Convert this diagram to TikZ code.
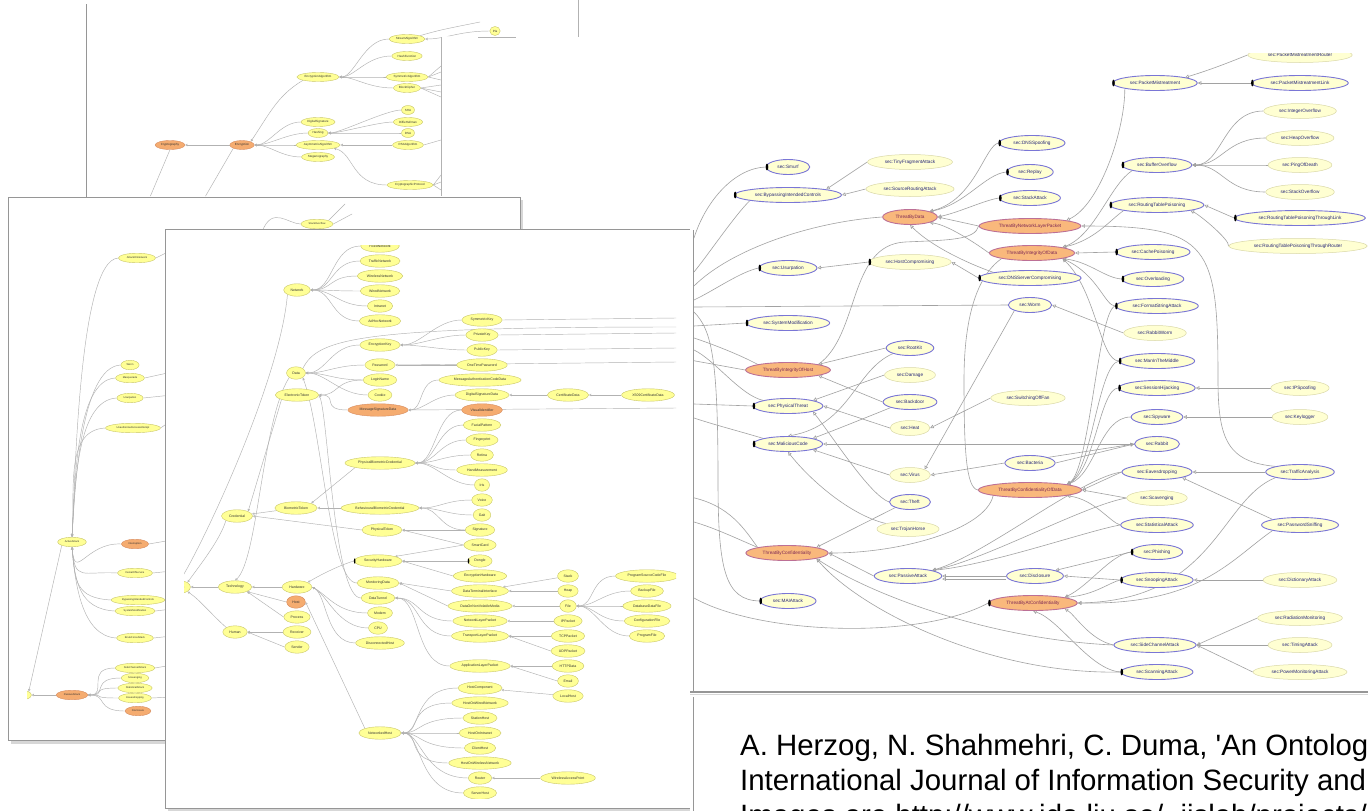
\documentclass[tikz,border=0pt]{standalone}
\usepackage{fontspec}
\setmainfont{Liberation Sans}
\setsansfont{Liberation Sans}
\usetikzlibrary{arrows.meta, shapes.geometric, positioning, calc}

\definecolor{ayel}{RGB}{255,255,150}
\definecolor{ayelline}{RGB}{200,198,105}
\definecolor{aorg}{RGB}{245,172,112}
\definecolor{aorgline}{RGB}{215,140,95}
\definecolor{agray}{RGB}{178,178,178}
\definecolor{ryel}{RGB}{255,255,210}
\definecolor{rblue}{RGB}{122,118,214}
\definecolor{rlight}{RGB}{218,216,168}
\definecolor{rorg}{RGB}{249,184,124}
\definecolor{rorgline}{RGB}{188,112,150}
\definecolor{rtext}{RGB}{38,38,120}
\definecolor{rorgtext}{RGB}{125,40,85}
\definecolor{rgray}{RGB}{162,162,162}
\definecolor{pline}{RGB}{150,150,150}
\definecolor{pshade}{RGB}{215,215,215}

\pgfdeclarelayer{pa}\pgfdeclarelayer{na}
\pgfdeclarelayer{pb}\pgfdeclarelayer{nb}
\pgfdeclarelayer{pc}\pgfdeclarelayer{nc}
\pgfdeclarelayer{pd}\pgfdeclarelayer{nd}
\pgfsetlayers{pa,na,pb,nb,pc,nc,pd,nd,main}

\tikzset{
  lnode/.style={ellipse, fill=ayel, draw=ayelline, line width=0.4pt, inner ysep=0pt, text=black!80},
  tnode/.style={lnode, inner xsep=1.5pt, minimum height=9pt, font=\fontsize{3}{3.4}\selectfont},
  mnode/.style={lnode, inner xsep=3pt, minimum height=9.5pt, font=\fontsize{2.6}{3}\selectfont},
  fnode/.style={lnode, inner xsep=3pt, minimum height=12.5pt, font=\fontsize{3.5}{4}\selectfont},
  lorg/.style={fill=aorg, draw=aorgline},
  ledge/.style={draw=agray, line width=0.45pt, -{Triangle[open, length=2.4pt, width=2.4pt]}},
  lline/.style={draw=agray, line width=0.45pt},
  rnode/.style={ellipse, fill=ryel, inner xsep=4.8pt, inner ysep=0pt, minimum height=15pt, font=\fontsize{4.7}{5.5}\selectfont, text=rtext},
  rcls/.style={rnode, draw=rblue, line width=0.9pt},
  rlit/.style={rnode, draw=rlight, line width=0.5pt},
  rthr/.style={rnode, fill=rorg, draw=rorgline, line width=0.9pt, text=rorgtext},
  redge/.style={draw=rgray, line width=0.6pt, -{Triangle[open, length=3.6pt, width=3.6pt]}},
  rline/.style={draw=rgray, line width=0.6pt},
  paneline/.style={draw=pline, line width=0.9pt},
  refline/.style={font=\fontsize{29.4}{34}\selectfont, anchor=base west, inner sep=0pt},
}
\newcommand{\tabmark}[1]{\fill[black] ([xshift=1.2pt]#1.west) ellipse (1.3pt and 3.4pt);}
\newcommand{\ltab}[1]{\fill[black] ([xshift=0.8pt]#1.west) ellipse (0.8pt and 2.6pt);}

\begin{document}
\begin{tikzpicture}[x=1pt, y=-1pt]
\useasboundingbox (0,0) rectangle (1368,811);

% ---------- back pane: cryptography ----------
\begin{pgfonlayer}{na}
\begin{scope}
\clip (87,0) -- (578,0) -- (578,36) -- (441,36) -- (441,196) -- (87,196) -- cycle;
\node[tnode, lorg] (crypto) at (170,145) {Cryptography};
\node[tnode, lorg] (encrypt) at (242,145) {Encryption};
\node[tnode] (encalg) at (318,77) {EncryptionAlgorithm};
\node[tnode] (digsig) at (318,122) {DigitalSignature};
\node[tnode] (hashing) at (318,133) {Hashing};
\node[tnode] (asymalg) at (318,145) {AsymmetricAlgorithm};
\node[tnode] (stegano) at (318,157) {Steganography};
\node[tnode] (streamalg) at (407,39) {StreamAlgorithm};
\node[tnode] (hashfn) at (407,56) {HashFunction};
\node[tnode] (symalg) at (407,77) {SymmetricAlgorithm};
\node[tnode] (blockc) at (407,88) {BlockCipher};
\node[tnode] (sha) at (408,110) {SHA};
\node[tnode] (diffie) at (408,122) {DiffieHellman};
\node[tnode] (dsa) at (408,133) {DSA};
\node[tnode] (rsa) at (408,145) {RSAAlgorithm};
\node[tnode] (cproto) at (410,185) {CryptographicProtocol};
\node[tnode] (plain) at (495,31) {Pla};
\end{scope}
\end{pgfonlayer}

\begin{pgfonlayer}{pa}
\fill[white] (86,-2) rectangle (580,197);
\draw[paneline] (86,4) -- (86,197);
\draw[lline] (441,37) -- (441,196);
\draw[lline] (578,-2) -- (578,37);
\draw[lline] (478,37) -- (516,37);
\begin{scope}
\clip (87,0) -- (578,0) -- (578,36) -- (441,36) -- (441,196) -- (87,196) -- cycle;
\draw[ledge] (encrypt) -- (crypto);
\draw[ledge] (encalg.south west) .. controls +(-25,15) and +(20,-30) .. (encrypt.north east);
\foreach \c in {digsig,hashing,asymalg,stegano}
  \draw[ledge] (\c.west) .. controls +(-20,0) and +(15,0) .. (encrypt.east);
\foreach \c in {streamalg,hashfn,symalg,blockc}
  \draw[ledge] (\c.west) .. controls +(-25,0) and +(15,0) .. (encalg.east);
\foreach \c in {sha,diffie,dsa}
  \draw[ledge] (\c.west) .. controls +(-15,0) and +(12,0) .. (hashing.east);
\draw[ledge] (rsa) -- (asymalg);
\draw[ledge] (cproto.west) .. controls +(-35,0) and +(20,5) .. (asymalg.south east);
\draw[ledge] (plain.west) .. controls +(-30,0) and +(20,0) .. (streamalg.east);
\coordinate (atop) at (480,22);
\draw[lline] (streamalg.north east) .. controls (440,30) .. (atop);
\coordinate (aoutA) at (150,197);
\coordinate (aoutB) at (205,197);
\draw[lline] (crypto.south) -- (aoutA);
\draw[lline] (encrypt.south west) -- (aoutB);
\foreach \c/\y [count=\k] in {symalg/66, symalg/72, symalg/80, blockc/85, blockc/92, blockc/97, rsa/140, cproto/175, cproto/182, cproto/190} {
  \coordinate (ar\k) at (441,\y);
  \draw[lline] (\c.east) -- (ar\k);
}
\end{scope}
\end{pgfonlayer}

% ---------- middle pane: attacks ----------
\begin{pgfonlayer}{nb}
\begin{scope}
\clip (27,198) rectangle (519,739);
\node[mnode] (matt) at (22,695) {Attack};
\node[mnode] (mactive) at (72,542) {ActiveAttack};
\node[mnode, lorg] (mpassive) at (72,695) {PassiveAttack};
\node[mnode] (mattnet) at (137,258) {AttackOnNetwork};
\node[mnode] (mworm) at (130,365) {Worm};
\node[mnode] (mmasq) at (130,378) {Masquerade};
\node[mnode] (musurp) at (130,398) {Usurpation};
\node[mnode] (munauth) at (133,428) {UnauthorizedAccessAttempt};
\node[mnode, lorg] (minterr) at (135,544) {Interruption};
\node[mnode] (mdos) at (135,573) {DenialOfService};
\node[mnode] (mbypass) at (138,600) {BypassingIntendedControls};
\node[mnode] (msysmod) at (135,611) {SystemModification};
\node[mnode] (mbrute) at (135,638) {BruteForceAttack};
\node[mnode] (mside) at (135,668) {SideChannelAttack};
\node[mnode] (mscav) at (135,678) {Scavenging};
\node[mnode] (mstat) at (135,688) {StatisticalAttack};
\node[mnode] (meaves) at (135,698) {Eavesdropping};
\node[mnode, lorg] (mdiscl) at (138,711) {Disclosure};
\node[mnode] (mstackov) at (317,224) {StackOverflow};
\node[mnode] (mheapov) at (220,236) {HeapOverflow};
\end{scope}
\end{pgfonlayer}

\begin{pgfonlayer}{pb}
\fill[pshade] (11,200) rectangle (523,744);
\fill[white] (8,197) rectangle (520,740);
\draw[paneline] (8,740) -- (8,197) -- (520,197) -- (520,232);
\draw[paneline] (8,740) -- (170,740);
\begin{scope}
\clip (27,198) rectangle (519,739);
\draw[ledge] (mpassive) -- (matt);
\draw[ledge] (mactive.south west) -- (matt.north east);
\foreach \c in {mattnet,mworm,mmasq,musurp,munauth}
  \draw[ledge] (\c.west) .. controls +(-40,2) and +(3,-50) .. (mactive.north);
\foreach \c in {minterr,mdos,mbypass,msysmod,mbrute}
  \draw[ledge] (\c.west) .. controls +(-35,-2) and +(3,35) .. (mactive.south);
\foreach \c in {mside,mscav,mstat,meaves,mdiscl}
  \draw[ledge] (\c.west) .. controls +(-30,0) and +(20,0) .. (mpassive.east);
\foreach \c/\y in {mattnet/250, mmasq/372, musurp/395, munauth/420, minterr/540, mdos/571, mbypass/598, msysmod/609, mbrute/636, mside/665, meaves/697} {
  \coordinate (bo\c) at (172,\y);
  \draw[lline] (\c.east) -- (bo\c);
}
\coordinate (bcurl) at (262,232);
\draw[lline] (mstackov.west) .. controls (288,224) and (272,205) .. (bcurl);
\coordinate (bupA) at (345,204);
\coordinate (bupB) at (352,214);
\draw[lline] (mstackov.north east) -- (bupA);
\draw[lline] (mstackov.east) -- (bupB);
\end{scope}
\end{pgfonlayer}

% ---------- front pane: assets ----------
\begin{pgfonlayer}{nc}
\begin{scope}
\clip (184,245) rectangle (676,798);
\node[fnode] (asset) at (180,587) {Asset};
\node[fnode] (techno) at (235,587) {Technology};
\node[fnode] (human) at (235,632) {Human};
\node[fnode] (cred) at (237,516) {Credential};
\node[fnode] (hardw) at (297,587) {Hardware};
\node[fnode, lorg] (host) at (296,602) {Host};
\node[fnode] (process) at (297,617) {Process};
\node[fnode] (receiver) at (297,632) {Receiver};
\node[fnode] (sender) at (297,647) {Sender};
\node[fnode] (netw) at (297,290) {Network};
\node[fnode] (data) at (296,373) {Data};
\node[fnode] (etoken) at (297,395) {ElectronicToken};
\node[fnode] (btoken) at (296,508) {BiometricToken};
% network kinds
\foreach \n/\t [count=\i] in {fixnet/FixedNetwork, trafnet/TrafficNetwork, wlnet/WirelessNetwork, wdnet/WiredNetwork, intra/Intranet, adhoc/AdHocNetwork}
  \node[fnode] (\n) at (380,231+15*\i) {\t};
\node[fnode] (enckey) at (380,345) {EncryptionKey};
\node[fnode] (passwd) at (380,365) {Password};
\node[fnode] (login) at (380,380) {LoginName};
\node[fnode] (cookie) at (380,395) {Cookie};
\node[fnode, lorg] (sigdata) at (378,410) {MessageSignatureData};
\node[fnode] (physbio) at (380,463) {PhysicalBiometricCredential};
\node[fnode] (behbio) at (380,508) {BehaviouralBiometricCredential};
\node[fnode] (phystoken) at (382,530) {PhysicalToken};
\node[fnode] (sechw) at (378,561) {SecurityHardware};
\node[fnode] (mondata) at (378,583) {MonitoringData};
\node[fnode] (tunnel) at (378,598) {DataTunnel};
\node[fnode] (modem) at (380,613) {Modem};
\node[fnode] (cpu) at (378,628) {CPU};
\node[fnode] (dischost) at (380,643) {DisconnectedHost};
\node[fnode] (nethost) at (380,733) {NetworkedHost};
% third column
\node[fnode] (symkey) at (482,320) {SymmetricKey};
\node[fnode] (privkey) at (482,335) {PrivateKey};
\node[fnode] (pubkey) at (482,350) {PublicKey};
\node[fnode] (otp) at (482,365) {OneTimePassword};
\node[fnode] (macdata) at (480,380) {MessageAuthenticationCodeData};
\node[fnode] (digsigdata) at (482,395) {DigitalSignatureData};
\node[fnode, lorg] (visual) at (482,410) {VisualIdentifier};
\node[fnode] (facial) at (482,425) {FacialPattern};
\node[fnode] (finger) at (482,440) {Fingerprint};
\node[fnode] (retina) at (482,455) {Retina};
\node[fnode] (handm) at (482,470) {HandMeasurement};
\node[fnode] (iris) at (482,485) {Iris};
\node[fnode] (voice) at (482,500) {Voice};
\node[fnode] (gait) at (482,515) {Gait};
\node[fnode] (signat) at (480,530) {Signature};
\node[fnode] (smart) at (480,545) {SmartCard};
\node[fnode] (dongle) at (480,561) {Dongle};
\node[fnode] (enchw) at (480,576) {EncryptionHardware};
\node[fnode] (dti) at (480,591) {DataTerminalInterface};
\node[fnode] (dnvm) at (480,606) {DataOnNonVolatileMedia};
\node[fnode] (nlp) at (480,621) {NetworkLayerPacket};
\node[fnode] (tlp) at (480,636) {TransportLayerPacket};
\node[fnode] (alp) at (480,666) {ApplicationLayerPacket};
\node[fnode] (hcomp) at (480,688) {HostComponent};
\node[fnode] (hwired) at (480,703) {HostOnWiredNetwork};
\node[fnode] (station) at (480,718) {StationHost};
\node[fnode] (hintra) at (480,733) {HostOnIntranet};
\node[fnode] (client) at (480,748) {ClientHost};
\node[fnode] (hwless) at (480,763) {HostOnWirelessNetwork};
\node[fnode] (router) at (480,778) {Router};
\node[fnode] (server) at (480,793) {ServerHost};
% fourth column
\node[fnode] (certdata) at (568,395) {CertificateData};
\node[fnode] (stack) at (568,576) {Stack};
\node[fnode] (heap) at (568,591) {Heap};
\node[fnode] (file) at (568,606) {File};
\node[fnode] (ippkt) at (568,621) {IPPacket};
\node[fnode] (tcppkt) at (568,636) {TCPPacket};
\node[fnode] (udppkt) at (568,651) {UDPPacket};
\node[fnode] (http) at (568,666) {HTTPData};
\node[fnode] (email) at (568,681) {Email};
\node[fnode] (localh) at (568,696) {LocalHost};
\node[fnode] (wap) at (568,778) {WirelessAccessPoint};
% fifth column
\node[fnode] (x509) at (648,395) {X509CertificateData};
\node[fnode] (srcfile) at (647,576) {ProgramSourceCodeFile};
\node[fnode] (backup) at (647,591) {BackupFile};
\node[fnode] (dbfile) at (647,606) {DatabaseDataFile};
\node[fnode] (conffile) at (647,621) {ConfigurationFile};
\node[fnode] (progfile) at (647,636) {ProgramFile};
\ltab{sechw}
\ltab{dongle}
\end{scope}
\end{pgfonlayer}

\begin{pgfonlayer}{pc}
\fill[pshade] (168,232) rectangle (693,811);
\fill[white] (165,229) rectangle (690,808);
\draw[paneline] (690,229) -- (165,229) -- (165,808) -- (690,808);
\begin{scope}
\clip (184,245) rectangle (676,798);
\draw[ledge] (techno) -- (asset);
\draw[ledge] (human.north west) .. controls (212,615) and (200,600) .. (asset.south east);
\draw[ledge] (cred.south west) .. controls (220,540) and (200,565) .. (asset.north east);
\draw[ledge] (netw.south west) .. controls (280,380) and (205,540) .. (asset.north);
\draw[ledge] (hardw) -- (techno);
\draw[ledge] (host.west) -- (techno.south east);
\draw[ledge] (process.west) -- (techno.south east);
\draw[ledge] (receiver) -- (human);
\draw[ledge] (sender.west) -- (human.east);
\draw[ledge] (data.south west) .. controls (262,420) and (258,560) .. (techno.north);
\draw[ledge] (etoken.south west) -- (cred.north east);
\draw[ledge] (btoken) -- (cred);
\draw[ledge] (phystoken.west) -- (cred.east);
\foreach \n in {fixnet,trafnet,wlnet,wdnet,intra,adhoc}
  \draw[ledge] (\n.west) .. controls +(-28,0) and +(22,0) .. (netw.east);
\foreach \n in {enckey,passwd,login,cookie}
  \draw[ledge] (\n.west) .. controls +(-28,0) and +(20,0) .. (data.east);
\draw[ledge] (login.west) .. controls +(-28,0) and +(20,0) .. (etoken.east);
\draw[ledge] (sigdata.west) .. controls +(-28,0) and +(20,0) .. (etoken.east);
\foreach \n in {symkey,privkey,pubkey}
  \draw[ledge] (\n.west) .. controls +(-25,0) and +(20,0) .. (enckey.east);
\draw[ledge] (otp) -- (passwd);
\draw[ledge] (macdata.west) .. controls +(-20,0) and +(15,0) .. (sigdata.east);
\draw[ledge] (digsigdata.west) .. controls +(-20,0) and +(15,0) .. (sigdata.east);
\draw[ledge] (certdata) -- (digsigdata);
\draw[ledge] (x509) -- (certdata);
\foreach \n in {visual,facial,finger,retina,handm,iris}
  \draw[ledge] (\n.west) .. controls +(-25,0) and +(20,0) .. (physbio.east);
\foreach \n in {voice,gait,signat}
  \draw[ledge] (\n.west) .. controls +(-25,0) and +(20,0) .. (behbio.east);
\draw[ledge] (physbio.south west) -- (btoken.north east);
\draw[ledge] (behbio) -- (btoken);
\draw[ledge] (smart.west) -- (phystoken.east);
\draw[ledge] (signat.west) -- (phystoken.east);
\draw[ledge] (smart.west) -- (sechw.north east);
\draw[ledge] (dongle) -- (sechw);
\draw[ledge] (enchw.west) -- (sechw.east);
\draw[ledge] (sechw.west) .. controls (340,565) and (320,575) .. (hardw.north east);
\foreach \n in {modem,cpu,dischost}
  \draw[ledge] (\n.west) .. controls +(-30,0) and +(15,8) .. (hardw.east);
\draw[ledge] (dti.west) -- (mondata.east);
\draw[ledge] (dnvm.west) -- (mondata.east);
\foreach \n in {nlp,tlp,alp}
  \draw[ledge] (\n.west) .. controls +(-35,0) and +(25,0) .. (tunnel.east);
\draw[ledge] (stack) -- (dti);
\draw[ledge] (heap) -- (dti);
\draw[ledge] (file) -- (dnvm);
\foreach \n in {srcfile,backup,dbfile,conffile,progfile}
  \draw[ledge] (\n.west) .. controls +(-25,0) and +(18,0) .. (file.east);
\draw[ledge] (ippkt) -- (nlp);
\draw[ledge] (tcppkt) -- (tlp);
\draw[ledge] (udppkt.west) -- (tlp.east);
\draw[ledge] (http) -- (alp);
\draw[ledge] (email.west) -- (alp.east);
\draw[ledge] (localh) -- (hcomp);
\foreach \n in {hcomp,hwired,station,hintra,client,hwless,router,server}
  \draw[ledge] (\n.west) .. controls +(-45,0) and +(20,0) .. (nethost.east);
\draw[ledge] (wap) -- (router);
\draw[ledge] (nethost.north west) -- (host.east);
\draw[ledge] (mondata.west) .. controls (330,583) and (322,430) .. (data.south east);
\draw[ledge] (tunnel.west) .. controls (334,598) and (328,415) .. (etoken.east);
\coordinate (cR0) at (676,327);
\draw[lline] (data.north east) .. controls (318,338) and (360,327) .. (cR0);
\foreach \n/\y [count=\k] in {symkey/318, privkey/333, pubkey/348, passwd/362, sigdata/408} {
  \coordinate (cR\k) at (676,\y);
  \draw[lline] (\n.east) -- (cR\k);
}
\end{scope}
\end{pgfonlayer}

% ---------- right pane: threats ----------
\begin{pgfonlayer}{nd}
\begin{scope}
\clip (694,53) rectangle (1368,691);
\node[rcls] (smurf) at (788,167) {sec:Smurf};
\node[rcls] (bypass) at (788,195) {sec:BypassingIntendedControls};
\node[rlit] (tiny) at (910,162) {sec:TinyFragmentAttack};
\node[rlit] (srcroute) at (910,189) {sec:SourceRoutingAttack};
\node[rthr] (tbdata) at (910,217) {ThreatByData};
\node[rcls] (dnsspoof) at (1032,143) {sec:DNSSpoofing};
\node[rcls] (replay) at (1030,172) {sec:Replay};
\node[rcls] (stackatt) at (1030,198) {sec:StackAttack};
\node[rthr] (tbnlp) at (1030,226) {ThreatByNetworkLayerPacket};
\node[rthr] (tbiod) at (1032,253) {ThreatByIntegrityOfData};
\node[rcls] (usurp) at (788,268) {sec:Usurpation};
\node[rlit] (hostcomp) at (910,262) {sec:HostCompromising};
\node[rcls] (dnsserv) at (1030,278) {sec:DNSServerCompromising};
\node[rlit] (pmrouter) at (1300,55) {sec:PacketMistreatmentRouter};
\node[rcls] (pmistreat) at (1155,83) {sec:PacketMistreatment};
\node[rcls] (pmlink) at (1300,83) {sec:PacketMistreatmentLink};
\node[rlit] (intov) at (1300,111) {sec:IntegerOverflow};
\node[rlit] (heapov) at (1300,138) {sec:HeapOverflow};
\node[rlit] (pingod) at (1300,165) {sec:PingOfDeath};
\node[rlit] (stackov) at (1300,192) {sec:StackOverflow};
\node[rcls] (bufov) at (1157,165) {sec:BufferOverflow};
\node[rcls] (rtpois) at (1157,205) {sec:RoutingTablePoisoning};
\node[rcls] (rtplink) at (1300,218) {sec:RoutingTablePoisoningThroughLink};
\node[rlit] (rtprouter) at (1298,246) {sec:RoutingTablePoisoningThroughRouter};
\node[rcls] (cachep) at (1153,252) {sec:CachePoisoning};
\node[rcls] (overl) at (1153,279) {sec:Overloading};
\node[rcls] (wormn) at (1030,305) {sec:Worm};
\node[rcls] (fmtstr) at (1157,306) {sec:FormatStringAttack};
\node[rlit] (rabworm) at (1155,333) {sec:RabbitWorm};
\node[rcls] (mitm) at (1157,361) {sec:ManInTheMiddle};
\node[rcls] (sesshij) at (1157,388) {sec:SessionHijacking};
\node[rlit] (ipspoof) at (1300,388) {sec:IPSpoofing};
\node[rcls] (spyware) at (1157,417) {sec:Spyware};
\node[rlit] (keylog) at (1300,417) {sec:Keylogger};
\node[rcls] (rabbit) at (1157,444) {sec:Rabbit};
\node[rcls] (bacteria) at (1030,463) {sec:Bacteria};
\node[rcls] (eavesd) at (1157,472) {sec:Eavesdropping};
\node[rcls] (traffic) at (1300,472) {sec:TrafficAnalysis};
\node[rthr] (tbcod) at (1030,490) {ThreatByConfidentialityOfData};
\node[rlit] (scaveng) at (1157,498) {sec:Scavenging};
\node[rcls] (statatt) at (1157,525) {sec:StatisticalAttack};
\node[rcls] (pwsniff) at (1300,525) {sec:PasswordSniffing};
\node[rcls] (phish) at (1157,552) {sec:Phishing};
\node[rcls] (snoop) at (1157,580) {sec:SnoopingAttack};
\node[rlit] (dictatt) at (1300,580) {sec:DictionaryAttack};
\node[rcls] (disclo) at (1035,576) {sec:Disclosure};
\node[rthr] (tbatc) at (1033,603) {ThreatByAtConfidentiality};
\node[rlit] (radmon) at (1300,618) {sec:RadiationMonitoring};
\node[rcls] (sidech) at (1155,645) {sec:SideChannelAttack};
\node[rlit] (timing) at (1300,645) {sec:TimingAttack};
\node[rcls] (scanatt) at (1157,672) {sec:ScanningAttack};
\node[rlit] (powmon) at (1300,672) {sec:PowerMonitoringAttack};
\node[rcls] (sysmodr) at (788,323) {sec:SystemModification};
\node[rthr] (tbioh) at (788,370) {ThreatByIntegrityOfHost};
\node[rcls] (rootkit) at (910,348) {sec:RootKit};
\node[rlit] (damage) at (910,375) {sec:Damage};
\node[rcls] (backdoor) at (910,402) {sec:Backdoor};
\node[rcls] (physthr) at (788,406) {sec:PhysicalThreat};
\node[rlit] (heat) at (910,428) {sec:Heat};
\node[rlit] (switchoff) at (1028,398) {sec:SwitchingOffFan};
\node[rcls] (malcode) at (788,444) {sec:MaliciousCode};
\node[rlit] (virus) at (910,475) {sec:Virus};
\node[rcls] (theft) at (910,502) {sec:Theft};
\node[rlit] (trojan) at (908,529) {sec:TrojanHorse};
\node[rthr] (tbconf) at (787,553) {ThreatByConfidentiality};
\node[rcls] (passatt) at (908,576) {sec:PassiveAttack};
\node[rcls] (maiatt) at (788,601) {sec:MAIAttack};
\node[rthr] (tbleft) at (648,359) {ThreatByAvailability};
\node[rthr] (tbtion) at (652,497) {ThreatByInterception};
\foreach \n in {smurf,bypass,dnsspoof,replay,stackatt,usurp,hostcomp,dnsserv,pmistreat,pmlink,bufov,rtpois,rtplink,cachep,overl,fmtstr,mitm,sesshij,phish,snoop,scanatt,sysmodr,physthr,malcode,maiatt,tbatc}
  {\tabmark{\n}}
\end{scope}
\end{pgfonlayer}

\begin{pgfonlayer}{pd}
\fill[white] (690,-2) rectangle (1370,813);
\draw[draw=pline, line width=1.6pt] (690,692) -- (1370,692);
\draw[draw=pshade, line width=1.4pt] (690,694.5) -- (1370,694.5);
\draw[paneline] (693,230) -- (693,692);
\draw[paneline] (693,697) -- (693,813);
\begin{scope}
\clip (694,53) rectangle (1368,691);
% ends beyond the left border
\coordinate (dL1) at (694,238);
\coordinate (dL2) at (694,272);
\coordinate (dL3) at (694,286);
\coordinate (dL4) at (694,300);
\coordinate (dL5) at (694,307);
\coordinate (dL6) at (694,326);
\coordinate (dL7) at (694,338);
\coordinate (dL8) at (694,404);
\coordinate (dL9) at (694,418);
\coordinate (dL10) at (694,522);
\coordinate (dL11) at (694,598);
\coordinate (dL12) at (694,312);
\coordinate (dL13) at (694,350);
\draw[rline] (smurf.west) .. controls (735,168) and (706,200) .. (dL1);
\draw[rline] (bypass.south west) .. controls (735,215) and (708,255) .. (dL2);
\draw[rline] (tbdata.west) .. controls (810,222) and (730,250) .. (dL3);
\draw[rline] (usurp.west) .. controls (740,272) and (715,290) .. (dL4);
\draw[rline] (wormn.west) -- (dL5);
\draw[rline] (sysmodr.west) -- (dL6);
\draw[rline] (tbioh.north west) .. controls (740,355) and (715,345) .. (dL7);
\draw[rline] (physthr.west) -- (dL8);
\draw[rline] (malcode.north west) .. controls (735,430) and (715,425) .. (dL9);
\draw[rline] (tbconf.north west) .. controls (740,540) and (715,528) .. (dL10);
\draw[rline] (tbatc.west) .. controls (920,640) and (760,635) .. (dL11);
\draw[rline] (maiatt.west) .. controls (725,600) and (718,570) .. (718,480) .. controls (718,360) and (712,330) .. (dL12);
\draw[rline] (physthr.north west) .. controls (740,395) and (715,360) .. (dL13);
\draw[rline] (tbleft.east) -- (tbioh.west);
\draw[rline] (tbtion.east) .. controls (730,505) and (745,530) .. (tbconf.north west);
% links inside the pane
\draw[redge] (tiny.west) -- (bypass.north east);
\draw[redge] (srcroute.west) -- (bypass.east);
\draw[redge] (hostcomp.west) -- (usurp.east);
\draw[redge] (dnsserv.west) -- (hostcomp.east);
\draw[redge] (dnsspoof.west) .. controls (985,145) and (975,200) .. (tbdata.north east);
\draw[redge] (replay.west) .. controls (985,174) and (965,205) .. (tbdata.north east);
\draw[redge] (stackatt.west) .. controls (985,200) and (960,212) .. (tbdata.east);
\draw[redge] (tbnlp.west) -- (tbdata.east);
\draw[redge] (tbiod.west) .. controls (985,250) and (950,225) .. (tbdata.south east);
\draw[redge] (dnsserv.north west) .. controls (980,268) and (935,250) .. (tbdata.south);
\draw[redge] (pmistreat.south west) .. controls (1125,130) and (1100,205) .. (tbnlp.north east);
\draw[redge] (pmlink.west) -- (pmistreat.east);
\draw[redge] (pmrouter.west) .. controls (1230,62) and (1210,70) .. (pmistreat.north east);
\foreach \c in {intov,heapov,pingod,stackov}
  \draw[redge] (\c.west) .. controls +(-40,0) and +(30,0) .. (bufov.east);
\draw[redge] (bufov.south west) .. controls (1110,185) and (1095,235) .. (tbiod.north east);
\draw[redge] (rtpois.south west) .. controls (1110,220) and (1095,240) .. (tbiod.north east);
\draw[redge] (rtplink.west) -- (rtpois.east);
\draw[redge] (rtprouter.west) .. controls (1230,240) and (1200,215) .. (rtpois.south east);
\draw[redge] (cachep.west) -- (tbiod.east);
\draw[redge] (overl.west) .. controls (1105,278) and (1090,262) .. (tbiod.south east);
\draw[redge] (traffic.north west) .. controls (1228,462) and (1218,440) .. (1218,380) .. controls (1218,245) and (1210,226) .. (tbnlp.east);
\draw[redge] (fmtstr.west) .. controls (1105,306) and (1098,275) .. (tbiod.south east);
\draw[redge] (mitm.west) .. controls (1100,361) and (1096,290) .. (tbiod.south east);
\draw[redge] (sesshij.west) .. controls (1100,388) and (1095,470) .. (tbcod.north east);
\draw[redge] (spyware.west) .. controls (1100,417) and (1095,475) .. (tbcod.north east);
\draw[redge] (mitm.west) .. controls (1098,365) and (1092,470) .. (tbcod.north east);
\draw[redge] (fmtstr.west) .. controls (1098,310) and (1090,470) .. (tbcod.north east);
\draw[redge] (rabworm.west) -- (wormn.east);
\draw[redge] (ipspoof) -- (sesshij);
\draw[redge] (keylog) -- (spyware);
\draw[redge] (bacteria.east) -- (rabbit.west);
\draw[redge] (bacteria.north east) -- (rabbit.west);
\draw[redge] (rabbit.west) -- (malcode.east);
\draw[redge] (wormn.south west) -- (virus.north east);
\draw[redge] (bacteria.west) -- (virus.east);
\draw[redge] (virus.west) -- (malcode.south east);
\draw[redge] (trojan.north west) .. controls (850,515) and (810,480) .. (malcode.south);
\draw[redge] (theft.west) .. controls (870,495) and (835,440) .. (physthr.south east);
\draw[redge] (theft.south west) -- (tbconf.north east);
\draw[redge] (damage.west) -- (physthr.north east);
\draw[redge] (heat.west) -- (physthr.east);
\draw[redge] (switchoff.west) -- (heat.east);
\draw[redge] (rootkit.west) -- (tbioh.north east);
\draw[redge] (backdoor.west) -- (tbioh.south east);
\draw[redge] (backdoor.south west) .. controls (865,418) and (835,430) .. (malcode.north east);
\draw[redge] (rootkit.south west) .. controls (855,370) and (850,425) .. (malcode.north);
\draw[redge] (passatt.west) -- (tbconf.east);
\draw[redge] (disclo.west) -- (passatt.east);
\draw[redge] ([yshift=-3pt]disclo.west) -- ([yshift=-3pt]passatt.east);
\draw[redge] (eavesd.west) .. controls (1080,478) and (985,555) .. (passatt.north east);
\draw[redge] (statatt.west) .. controls (1090,530) and (990,565) .. (passatt.north east);
\draw[redge] (scaveng.west) .. controls (1085,505) and (985,560) .. (passatt.north east);
\draw[redge] (phish.west) -- (disclo.north east);
\draw[redge] (snoop.west) -- (disclo.east);
\draw[redge] (eavesd.west) -- (tbcod.east);
\draw[redge] (scaveng.west) -- (tbcod.east);
\draw[redge] (statatt.west) .. controls (1110,522) and (1095,500) .. (tbcod.south east);
\draw[redge] (phish.west) .. controls (1110,555) and (1090,585) .. (tbatc.north east);
\draw[redge] (snoop.west) .. controls (1110,582) and (1095,595) .. (tbatc.north east);
\draw[redge] (sidech.west) .. controls (1090,640) and (1075,615) .. (tbatc.south east);
\draw[redge] (scanatt.west) .. controls (1090,670) and (1060,620) .. (tbatc.south);
\draw[redge] (sidech.west) .. controls (1000,640) and (880,600) .. (tbconf.south east);
\draw[redge] (scanatt.west) .. controls (990,675) and (860,610) .. (tbconf.south east);
\foreach \c in {radmon,timing,powmon}
  \draw[redge] (\c.west) -- (sidech.east);
\draw[redge] (dictatt) -- (snoop);
\draw[redge] (traffic) -- (eavesd);
\draw[redge] (pwsniff.north west) -- (eavesd.south east);
\draw[redge] (pwsniff.south west) .. controls (1230,560) and (1200,605) .. (tbatc.east);
\draw[redge] (traffic.south west) .. controls (1220,500) and (1215,600) .. (tbatc.east);
\draw[redge] (tbcod.south west) .. controls (985,530) and (900,553) .. (tbconf.east);
\draw[rline] (tbcod.west) .. controls (966,488) and (964,450) .. (964,380) .. controls (964,300) and (985,270) .. (tbiod.south west);
\draw[rline] (tbioh.north east) .. controls (860,335) and (848,245) .. (905,242) .. controls (950,240) and (975,240) .. (tbnlp.west);
\end{scope}
\end{pgfonlayer}

% ---------- reference ----------
\node[refline] (ref1) at (740,755) {A. Herzog, N. Shahmehri, C. Duma, \textquotesingle An Ontology};
\node[refline] (ref2) at (740,790) {International Journal of Information Security and};
\node[refline] (ref3) at (740,825) {Images are http://www.ida.liu.se/\textasciitilde iislab/projects/secont/};
\end{tikzpicture}
\end{document}
